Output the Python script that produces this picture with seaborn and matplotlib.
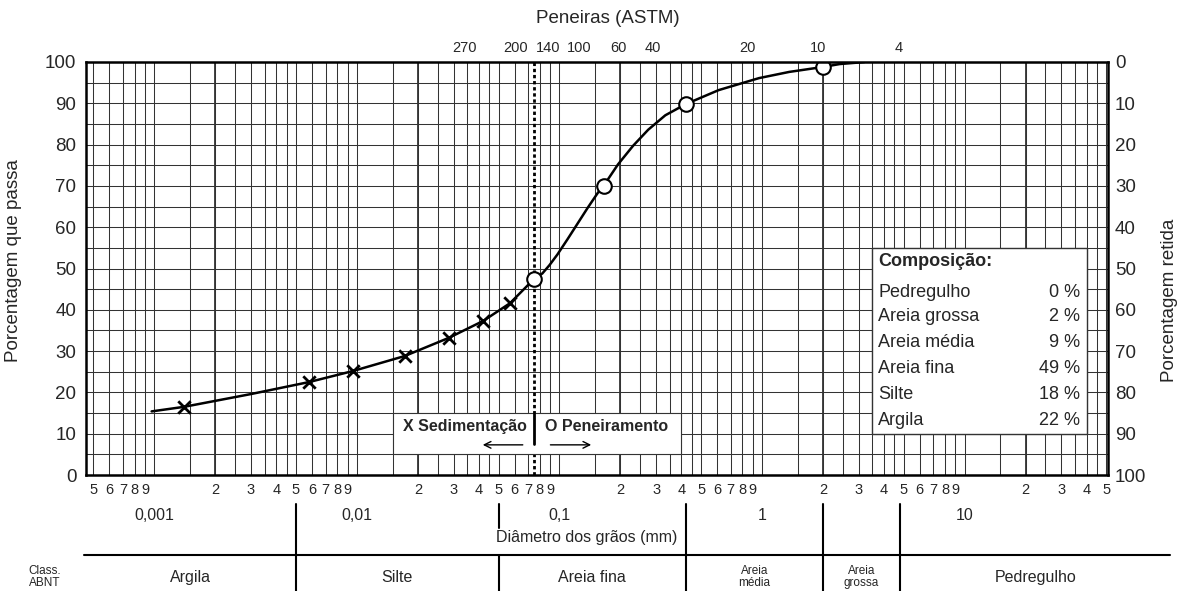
import numpy as np
import pandas as pd
import matplotlib
matplotlib.use("Agg")
import matplotlib.pyplot as plt
import matplotlib.transforms as mtransforms
from matplotlib.patches import Rectangle
from matplotlib.ticker import NullFormatter, NullLocator
import seaborn as sns

# ---------------- data ----------------
curve_mm = [0.00097, 0.0014, 0.0030, 0.0058, 0.0096, 0.0172, 0.0284, 0.042, 0.057,
            0.075, 0.0823, 0.0892, 0.0977, 0.1096, 0.1229, 0.1378, 0.1545, 0.165,
            0.1944, 0.2307, 0.2741, 0.333, 0.42, 0.611, 0.966, 1.362, 2.0, 2.415,
            3.04, 3.2]
curve_pct = [15.4, 16.5, 19.6, 22.5, 25.2, 28.8, 33.2, 37.3, 41.6,
             47.5, 48.8, 50.8, 53.4, 57.1, 60.9, 64.7, 68.3, 70.0,
             75.2, 79.7, 83.6, 87.1, 89.8, 93.2, 96.1, 97.6, 98.8, 99.5,
             99.9, 100.0]

sed_mm = [0.0014, 0.0058, 0.0096, 0.0172, 0.0284, 0.042, 0.057]
sed_pct = [16.5, 22.5, 25.2, 28.8, 33.2, 37.3, 41.6]

sieve_mm = [0.075, 0.165, 0.42, 2.0]
sieve_pct = [47.5, 70.0, 89.8, 98.8]

sieve_label_mm = [0.034, 0.061, 0.088, 0.125, 0.195, 0.29, 0.85, 1.9, 4.7]
sieve_labels = ["270", "200", "140", "100", "60", "40", "20", "10", "4"]
sieve200_mm = 0.075

decade_mm = [0.001, 0.01, 0.1, 1, 10]
decade_labels = ["0,001", "0,01", "0,1", "1", "10"]

class_bounds = [0.005, 0.05, 0.42, 2.0, 4.8]
class_names = ["Argila", "Silte", "Areia fina", "Areia\nmédia", "Areia\ngrossa", "Pedregulho"]

comp_names = ["Pedregulho", "Areia grossa", "Areia média", "Areia fina", "Silte", "Argila"]
comp_values = [0, 2, 9, 49, 18, 22]

y_ticks = list(range(0, 101, 10))

# ---------------- style ----------------
sns.set_theme(style="white")
plt.rcParams['font.family'] = ['Liberation Sans', 'DejaVu Sans']

XMIN, XMAX = 0.00046, 51
GRIDC = '#333333'

fig = plt.figure(figsize=(11.81, 5.91), dpi=100)
fig.patch.set_facecolor('white')
ax = fig.add_axes([86 / 1181, 116 / 591, 1022 / 1181, 413 / 591])
ax.set_facecolor('white')
ax.set_xscale('log')
ax.set_xlim(XMIN, XMAX)
ax.set_ylim(0, 100)

# grid positions (scale construction)
mults = [1, 1.5, 2, 2.5, 3, 3.5, 4, 4.5, 5, 6, 7, 8, 9]
grid_x = [m * 10.0 ** e for e in range(-4, 2) for m in mults if XMIN < m * 10.0 ** e < XMAX * 0.99]
digit_pos = [m * 10.0 ** e for e in range(-4, 2) for m in range(2, 10) if XMIN < m * 10.0 ** e < XMAX]
digit_lab = [str(int(round(p / 10.0 ** np.floor(np.log10(p) + 1e-9)))) for p in digit_pos]

ax.xaxis.remove_overlapping_locs = False
ax.set_xticks(digit_pos)
ax.set_xticklabels(digit_lab)
ax.set_xticks(grid_x, minor=True)
ax.xaxis.set_minor_formatter(NullFormatter())
ax.set_yticks(y_ticks)
ax.set_yticks(list(range(5, 100, 10)), minor=True)
ax.tick_params(axis='both', which='both', length=0)
ax.tick_params(axis='x', which='major', pad=6, labelsize=10.5)
ax.tick_params(axis='y', which='major', pad=7, labelsize=13.5)
ax.grid(False)
ax.grid(True, which='minor', axis='x', color=GRIDC, lw=0.75)
ax.grid(True, which='both', axis='y', color=GRIDC, lw=0.75)
ax.set_axisbelow(True)
for e in range(-3, 2):
    ax.axvline(2 * 10.0 ** e, color=GRIDC, lw=1.3, zorder=1)

for s in ax.spines.values():
    s.set_color('black')
    s.set_linewidth(1.8)
    s.set_zorder(8)

ax.set_ylabel("Porcentagem que passa", fontsize=13.5)
ax.yaxis.set_label_coords(-0.0626, 0.52)

# sieve #200 dotted line
ax.axvline(sieve200_mm, color='black', ls=(0, (1.2, 1.0)), lw=2.0, zorder=3)

# curve and points
curve_df = pd.DataFrame({"mm": curve_mm, "pct": curve_pct})
sns.lineplot(data=curve_df, x="mm", y="pct", ax=ax, color='black', lw=1.8,
             sort=False, estimator=None, zorder=5)
sed_df = pd.DataFrame({"mm": sed_mm, "pct": sed_pct})
sns.scatterplot(data=sed_df, x="mm", y="pct", ax=ax, marker='x', s=80,
                color='black', linewidth=2.0, zorder=6)
siv_df = pd.DataFrame({"mm": sieve_mm, "pct": sieve_pct})
sns.scatterplot(data=siv_df, x="mm", y="pct", ax=ax, marker='o', s=110,
                facecolor='white', edgecolor='black', linewidth=1.5, zorder=7)
ax.set_xlabel("")

# legend box (sedimentação / peneiramento)
ax.add_patch(Rectangle((0.015, 5), 0.4 - 0.015, 10, facecolor='white',
                       edgecolor=GRIDC, lw=0.8, zorder=4))
ax.plot([sieve200_mm, sieve200_mm], [7.6, 15], color='black', lw=2.0, zorder=5)
ax.text(0.069, 11.7, "X Sedimentação", ha='right', va='center', fontsize=11.5,
        fontweight='bold', zorder=6)
ax.text(0.0845, 11.7, "O Peneiramento", ha='left', va='center', fontsize=11.5,
        fontweight='bold', zorder=6)
ax.annotate('', xy=(0.0405, 7.3), xytext=(0.068, 7.3),
            arrowprops=dict(arrowstyle='->', lw=1.0, color='black'), zorder=6)
ax.annotate('', xy=(0.148, 7.3), xytext=(0.0874, 7.3),
            arrowprops=dict(arrowstyle='->', lw=1.0, color='black'), zorder=6)

# composition box
ax.add_patch(Rectangle((3.5, 10), 40 - 3.5, 45, facecolor='white',
                       edgecolor=GRIDC, lw=1.0, zorder=4))
ax.text(0.775, 0.516, "Composição:", transform=ax.transAxes, ha='left', va='center',
        fontsize=13, fontweight='bold', zorder=6)
row_y = [0.443, 0.383, 0.320, 0.259, 0.196, 0.133]
for name, val, yy in zip(comp_names, comp_values, row_y):
    ax.text(0.775, yy, name, transform=ax.transAxes, ha='left', va='center',
            fontsize=13, zorder=6)
    ax.text(0.9726, yy, f"{val} %", transform=ax.transAxes, ha='right', va='center',
            fontsize=13, zorder=6)

# right axis
ax2 = ax.twinx()
ax2.set_ylim(100, 0)
ax2.set_yticks(y_ticks)
ax2.tick_params(axis='y', length=0, labelsize=13.5, pad=5)
ax2.grid(False)
for s in ax2.spines.values():
    s.set_visible(False)
ax2.set_ylabel("Porcentagem retida", fontsize=13.5, rotation=90)
ax2.yaxis.set_label_coords(1.052, 0.424)

# top: sieves
secax = ax.secondary_xaxis('top')
secax.set_xticks(sieve_label_mm)
secax.set_xticklabels(sieve_labels)
secax.xaxis.set_minor_locator(NullLocator())
secax.tick_params(axis='x', which='both', length=0, labelsize=10.5, pad=5)
for s in secax.spines.values():
    s.set_visible(False)
fig.text(0.515, 0.9695, "Peneiras (ASTM)", ha='center', va='center', fontsize=13.5)

# bottom: decades, diameter label, ABNT classes
trans = mtransforms.blended_transform_factory(ax.transData, ax.transAxes)
for d, lab in zip(decade_mm, decade_labels):
    ax.text(d, -0.099, lab, transform=trans, ha='center', va='center',
            fontsize=11.5, clip_on=False)
ax.text(0.49, -0.1525, "Diâmetro dos grãos (mm)", transform=ax.transAxes,
        ha='center', va='center', fontsize=11.5, clip_on=False)
ax.plot([-0.002, 1.061], [-0.194, -0.194], transform=ax.transAxes, color='black',
        lw=1.5, clip_on=False)
for i, b in enumerate(class_bounds):
    if i == 1:
        ax.plot([b, b], [-0.070, -0.128], transform=trans, color='black', lw=1.5, clip_on=False)
        ax.plot([b, b], [-0.194, -0.29], transform=trans, color='black', lw=1.5, clip_on=False)
    else:
        ax.plot([b, b], [-0.070, -0.29], transform=trans, color='black', lw=1.5, clip_on=False)

edges = [XMIN] + class_bounds + [105]
for i, name in enumerate(class_names):
    c = np.sqrt(edges[i] * edges[i + 1])
    small = "\n" in name
    ax.text(c, -0.247, name, transform=trans, ha='center', va='center',
            fontsize=8.5 if small else 11.5, linespacing=0.95, clip_on=False)
ax.text(-0.040, -0.247, "Class.\nABNT", transform=ax.transAxes, ha='center',
        va='center', fontsize=8.5, linespacing=0.95, clip_on=False)

fig.savefig("out.png", dpi=100, facecolor='white')
